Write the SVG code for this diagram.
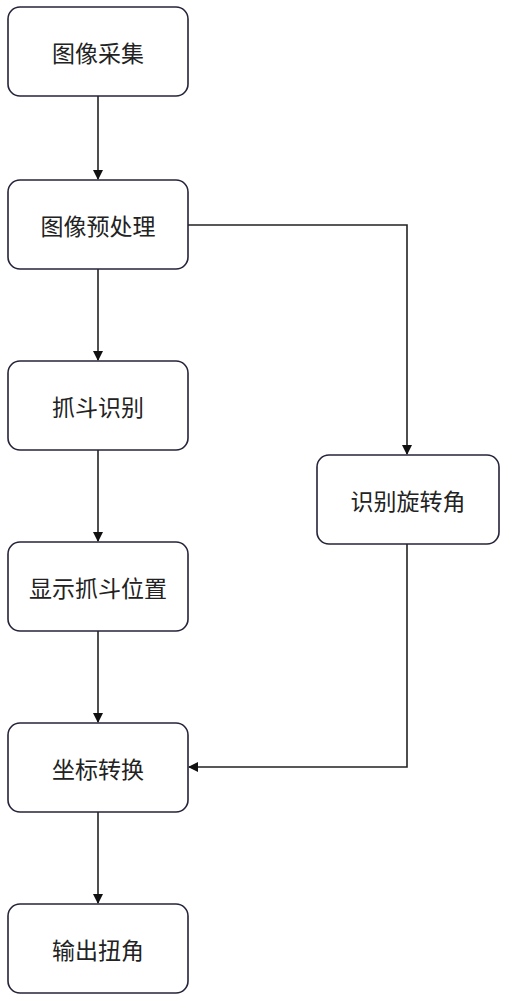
<svg xmlns="http://www.w3.org/2000/svg" width="506" height="1000" viewBox="0 0 506 1000">
<style>
.box{fill:#fff;stroke:#24243a;stroke-width:1.6}
.lbl{font-family:"Noto Sans CJK SC","Noto Sans",sans-serif;font-size:23px;fill:#222;text-anchor:middle;dominant-baseline:central}
.edge{fill:none;stroke:#222;stroke-width:1.6}
</style>
<defs>
<marker id="ah" markerWidth="10" markerHeight="10" refX="9" refY="5" orient="auto" markerUnits="userSpaceOnUse">
<path d="M0,0 L10,5 L0,10 Z" fill="#111"/>
</marker>
</defs>
<rect width="506" height="1000" fill="#fff"/>
<g id="connectors">
<path class="edge" d="M98,96 V179" marker-end="url(#ah)"/>
<path class="edge" d="M98,269 V360" marker-end="url(#ah)"/>
<path class="edge" d="M98,450 V541" marker-end="url(#ah)"/>
<path class="edge" d="M98,631 V722" marker-end="url(#ah)"/>
<path class="edge" d="M98,812 V903" marker-end="url(#ah)"/>
<path class="edge" d="M188,225 H407 V454" marker-end="url(#ah)"/>
<path class="edge" d="M407,544 V767 H189" marker-end="url(#ah)"/>
</g>
<g id="n1"><rect class="box" x="8" y="7" width="180" height="89" rx="12"/><text class="lbl" x="98" y="52">图像采集</text></g>
<g id="n2"><rect class="box" x="8" y="180" width="180" height="89" rx="12"/><text class="lbl" x="98" y="225">图像预处理</text></g>
<g id="n3"><rect class="box" x="8" y="361" width="180" height="89" rx="12"/><text class="lbl" x="98" y="406">抓斗识别</text></g>
<g id="n4"><rect class="box" x="8" y="542" width="180" height="89" rx="12"/><text class="lbl" x="98" y="587">显示抓斗位置</text></g>
<g id="n5"><rect class="box" x="8" y="723" width="180" height="89" rx="12"/><text class="lbl" x="98" y="768">坐标转换</text></g>
<g id="n6"><rect class="box" x="8" y="904" width="180" height="89" rx="12"/><text class="lbl" x="98" y="949">输出扭角</text></g>
<g id="n7"><rect class="box" x="317" y="455" width="182" height="89" rx="12"/><text class="lbl" x="408" y="500">识别旋转角</text></g>
</svg>
